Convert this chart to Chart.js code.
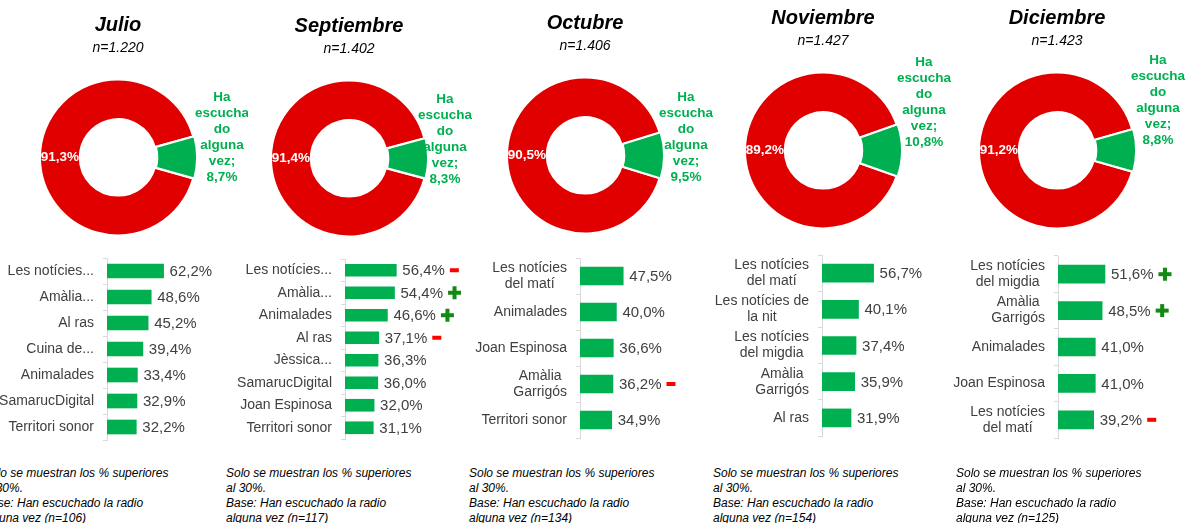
<!DOCTYPE html>
<html>
<head>
<meta charset="utf-8">
<script src="https://cdn.jsdelivr.net/npm/chart.js@4.4.0/dist/chart.umd.min.js"></script>
<style>
  body { margin: 0; width: 1189px; height: 523px; background: #fff; position: relative; overflow: hidden; font-family: Arial, "Liberation Sans", sans-serif; }
  canvas { position: absolute; }
  .nota { position: absolute; top: 466px; font-style: italic; font-size: 12px; line-height: 15px; color: #000; white-space: nowrap; }
</style>
</head>
<body>
<script>
// datos
const meses = ['Julio', 'Septiembre', 'Octubre', 'Noviembre', 'Diciembre'];
const muestras = ['n=1.220', 'n=1.402', 'n=1.406', 'n=1.427', 'n=1.423'];
const categoriasAnillo = ['No ha escuchado', 'Ha escuchado alguna vez'];
const lineasVerde = ['Ha', 'escucha', 'do', 'alguna', 'vez;'];
const noEscuchado = [91.3, 91.4, 90.5, 89.2, 91.2];
const haEscuchado = [8.7, 8.3, 9.5, 10.8, 8.8];
const baseN = [106, 117, 134, 154, 125];

const progJulio = ['Les notícies...', 'Amàlia...', 'Al ras', 'Cuina de...', 'Animalades', 'SamarucDigital', 'Territori sonor'];
const valJulio = [62.2, 48.6, 45.2, 39.4, 33.4, 32.9, 32.2];
const sigJulio = ['', '', '', '', '', '', ''];

const progSept = ['Les notícies...', 'Amàlia...', 'Animalades', 'Al ras', 'Jèssica...', 'SamarucDigital', 'Joan Espinosa', 'Territori sonor'];
const valSept = [56.4, 54.4, 46.6, 37.1, 36.3, 36.0, 32.0, 31.1];
const sigSept = ['-', '+', '+', '-', '', '', '', ''];

const progOct = [['Les notícies', 'del matí'], 'Animalades', 'Joan Espinosa', ['Amàlia', 'Garrigós'], 'Territori sonor'];
const valOct = [47.5, 40.0, 36.6, 36.2, 34.9];
const sigOct = ['', '', '', '-', ''];

const progNov = [['Les notícies', 'del matí'], ['Les notícies de', 'la nit'], ['Les notícies', 'del migdia'], ['Amàlia', 'Garrigós'], 'Al ras'];
const valNov = [56.7, 40.1, 37.4, 35.9, 31.9];
const sigNov = ['', '', '', '', ''];

const progDic = [['Les notícies', 'del migdia'], ['Amàlia', 'Garrigós'], 'Animalades', 'Joan Espinosa', ['Les notícies', 'del matí']];
const valDic = [51.6, 48.5, 41.0, 41.0, 39.2];
const sigDic = ['+', '+', '', '', '-'];

const programas = [progJulio, progSept, progOct, progNov, progDic];
const valores = [valJulio, valSept, valOct, valNov, valDic];
const signos = [sigJulio, sigSept, sigOct, sigNov, sigDic];

// colores y posiciones
const ROJO = '#E00000';
const VERDE = '#00B050';
const GRIS = '#404040';
const FUENTE = 'Arial, "Liberation Sans", sans-serif';
Chart.defaults.font.family = FUENTE;

const centroX = [118, 349, 585, 823, 1057];
const arribaAnillo = [0, 1, -2, -7, -7];
const etiquetaDx = [104, 96, 101, 101, 101];
const etiquetaDy = [-20, -19, -18, -48, -50];
const ejeX = [107, 345, 580, 822, 1058];
const margenBarras = [[8, 5], [9, 6], [8, 7], [5, 9], [6, 7]];
const grosor = [14, 12, 18, 18, 18];
const notaX = [-17, 226, 469, 713, 956];

const fmt = v => v.toFixed(1).replace('.', ',');

function lienzo(left, top, w, h) {
  const c = document.createElement('canvas');
  c.width = w; c.height = h;
  c.style.left = left + 'px';
  c.style.top = top + 'px';
  document.body.appendChild(c);
  return c;
}

const etiquetasAnillo = {
  id: 'etiquetasAnillo',
  afterDatasetsDraw(chart) {
    const ds = chart.data.datasets[0];
    const arcos = chart.getDatasetMeta(0).data;
    const roja = arcos[0];
    const ctx = chart.ctx;
    ctx.save();
    ctx.font = 'bold 13.5px ' + FUENTE;
    ctx.textAlign = 'center';
    ctx.textBaseline = 'middle';
    ctx.fillStyle = '#fff';
    const rm = (roja.outerRadius + roja.innerRadius) / 2;
    ctx.fillText(fmt(ds.data[0]) + '%', roja.x - rm, roja.y);
    ctx.fillStyle = VERDE;
    const lineas = lineasVerde.concat([fmt(ds.data[1]) + '%']);
    const cx = roja.x + ds.etiquetaDx;
    const cy = roja.y + ds.etiquetaDy;
    lineas.forEach((l, i) => ctx.fillText(l, cx, cy + (i - 2.5) * 16));
    ctx.restore();
  }
};

const etiquetasBarras = {
  id: 'etiquetasBarras',
  afterDatasetsDraw(chart) {
    const ds = chart.data.datasets[0];
    const meta = chart.getDatasetMeta(0);
    const ctx = chart.ctx;
    const escalaY = chart.scales.y;
    ctx.save();
    ctx.textBaseline = 'middle';
    // valores y signos
    ctx.font = '15px ' + FUENTE;
    meta.data.forEach((bar, i) => {
      const txt = fmt(ds.data[i]) + '%';
      const x = bar.x + 6;
      ctx.fillStyle = GRIS;
      ctx.textAlign = 'left';
      ctx.fillText(txt, x, bar.y + 1);
      const x0 = x + ctx.measureText(txt).width + 5;
      if (ds.signif[i] === '+') {
        ctx.fillStyle = '#138A13';
        ctx.fillRect(x0, bar.y - 2, 13, 4);
        ctx.fillRect(x0 + 4.5, bar.y - 6.5, 4, 13);
      } else if (ds.signif[i] === '-') {
        ctx.fillStyle = '#FF0000';
        ctx.fillRect(x0, bar.y - 2, 9, 4);
      }
    });
    // categorias
    ctx.font = '14px ' + FUENTE;
    ctx.fillStyle = GRIS;
    ctx.textAlign = 'center';
    const derecha = chart.chartArea.left - 13;
    chart.data.labels.forEach((lab, i) => {
      const lineas = Array.isArray(lab) ? lab : [lab];
      const ancho = Math.max(...lineas.map(l => ctx.measureText(l).width));
      const y = escalaY.getPixelForValue(i);
      lineas.forEach((l, j) => {
        ctx.fillText(l, derecha - ancho / 2, y + (j - (lineas.length - 1) / 2) * 16);
      });
    });
    ctx.restore();
  }
};

meses.forEach((mes, i) => {
  // anillo
  const ca = lienzo(centroX[i] - 130, arribaAnillo[i], 260, 260);
  new Chart(ca, {
    type: 'doughnut',
    data: {
      labels: categoriasAnillo,
      datasets: [{
        data: [noEscuchado[i], haEscuchado[i]],
        backgroundColor: [ROJO, VERDE],
        borderColor: '#fff',
        borderWidth: 2,
        offset: [0, 3],
        etiquetaDx: etiquetaDx[i],
        etiquetaDy: etiquetaDy[i]
      }]
    },
    options: {
      responsive: false,
      animation: false,
      radius: 78,
      cutout: '49%',
      rotation: 90 + haEscuchado[i] * 1.8,
      layout: { padding: { top: 0, bottom: 2 } },
      plugins: {
        legend: { display: false },
        tooltip: { enabled: false },
        title: {
          display: true, text: mes, color: '#000',
          font: { size: 20, style: 'italic', weight: 'bold' },
          padding: { top: 13, bottom: 3 }
        },
        subtitle: {
          display: true, text: muestras[i], color: '#000',
          font: { size: 14, style: 'italic' },
          padding: 0
        }
      }
    },
    plugins: [etiquetasAnillo]
  });

  // barras
  const cb = lienzo(ejeX[i] - 130, 250, 301, 195);
  new Chart(cb, {
    type: 'bar',
    data: {
      labels: programas[i],
      datasets: [{
        data: valores[i],
        backgroundColor: VERDE,
        barThickness: grosor[i],
        signif: signos[i]
      }]
    },
    options: {
      indexAxis: 'y',
      responsive: false,
      animation: false,
      layout: { padding: { top: margenBarras[i][0], bottom: margenBarras[i][1], left: 0, right: 80 } },
      scales: {
        x: { display: false, min: 0, max: 100 },
        y: {
          afterFit(s) { s.width = 130; s.paddingTop = 0; s.paddingBottom = 0; },
          border: { color: '#D9D9D9' },
          grid: { drawOnChartArea: false, tickLength: 4, color: '#D9D9D9', offset: true },
          ticks: { display: false }
        }
      },
      plugins: { legend: { display: false }, tooltip: { enabled: false } }
    },
    plugins: [etiquetasBarras]
  });

  // nota
  const nota = document.createElement('div');
  nota.className = 'nota';
  nota.style.left = notaX[i] + 'px';
  nota.innerHTML = 'Solo se muestran los % superiores<br>al 30%.<br>Base: Han escuchado la radio<br>alguna vez (n=' + baseN[i] + ')';
  document.body.appendChild(nota);
});
</script>
</body>
</html>
